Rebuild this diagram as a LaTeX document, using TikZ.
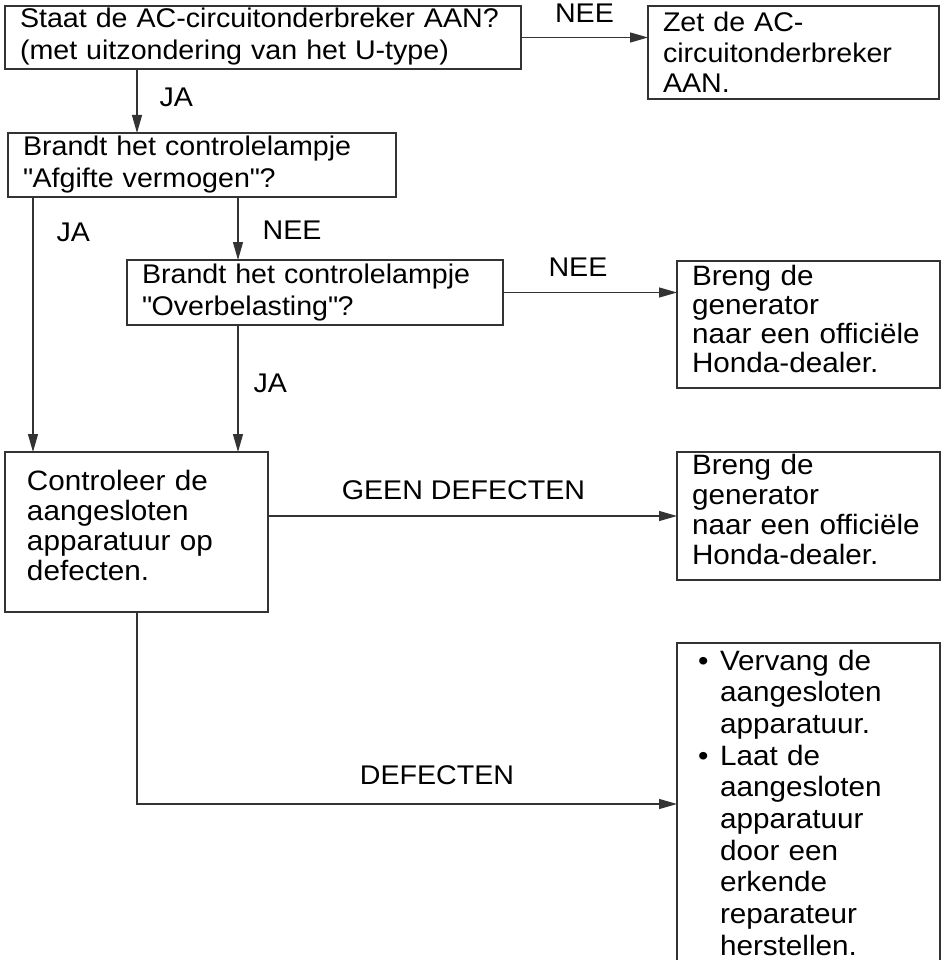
\documentclass[tikz,border=0pt]{standalone}
\usepackage{fontspec}
\setmainfont{Liberation Sans}[FakeStretch=1.06]
\usepackage{tikz}
\usetikzlibrary{positioning,arrows.meta}
\tikzset{
  vak/.style={draw=black!80,line width=1.2pt,anchor=north west,outer sep=0pt,align=left,inner xsep=15pt,inner ysep=2pt,font=\fontsize{28}{30}\selectfont},
  lab/.style={font=\fontsize{27}{30}\selectfont,inner sep=4pt},
  pijl/.style={-{Triangle[length=18pt,width=10pt]},draw=black!80,line width=1.2pt},
}
\newcommand{\opsom}{\makebox[22pt][l]{\textbullet}}
\newcommand{\insp}{\hspace*{22pt}}
\newcommand{\aanh}{\XeTeXglyph\the\XeTeXcharglyph"22\relax}

\begin{document}
\begin{tikzpicture}[x=1pt,y=-1pt]
  \useasboundingbox (0,0) rectangle (944,960);
  \coordinate (k1) at (137,0); \coordinate (k2) at (33,0); \coordinate (k3) at (238,0);
  \node[vak,text width=486pt,text height=20pt,text depth=39pt,font=\fontsize{27}{32}\selectfont] (vAC) at (5,6)
    {Staat de AC-circuitonderbreker AAN?\\(met uitzondering van het U-type)};
  \node[vak,text width=261pt,text height=24pt,text depth=65pt,font=\fontsize{27}{30.5}\selectfont] (zet) at (648,6)
    {Zet de AC-\\circuitonderbreker\\AAN.};
  \node[vak,text width=358pt,text height=21pt,text depth=39pt,font=\fontsize{27}{32}\selectfont] (vAfg) at (8,133)
    {Brandt het controlelampje\\\aanh Afgifte vermogen\aanh?};
  \node[vak,text width=346pt,text height=21pt,text depth=40pt,font=\fontsize{27}{32}\selectfont] (vOver) at (127,260)
    {Brandt het controlelampje\\\aanh Overbelasting\aanh?};
  \node[vak,text width=233pt,text height=22pt,text depth=101pt,font=\fontsize{28}{29}\selectfont] (dealerA) at (677,261)
    {Breng de\\generator\\naar een officiële\\Honda-dealer.};
  \node[vak,inner xsep=22pt,text width=219pt,text height=36pt,text depth=120pt] (contr) at (5,452)
    {Controleer de\\aangesloten\\apparatuur op\\defecten.};
  \node[vak,text width=233pt,text height=20pt,text depth=104pt] (dealerB) at (677,452)
    {Breng de\\generator\\naar een officiële\\Honda-dealer.};
  \node[vak,inner xsep=21pt,text width=221pt,text height=25pt,text depth=293pt,font=\fontsize{28}{31.7}\selectfont] (herst) at (677,643)
    {\opsom Vervang de\\\insp aangesloten\\\insp apparatuur.\\\opsom Laat de\\\insp aangesloten\\\insp apparatuur\\\insp door een\\\insp erkende\\\insp reparateur\\\insp herstellen.};

  \draw[pijl] (vAC.east) -- (vAC.east -| zet.west) node[lab,midway,above=10pt]{NEE};
  \draw[pijl] (vAC.south -| k1) -- (vAfg.north -| k1) node[lab,midway,right=18pt,yshift=3.5pt]{JA};
  \draw[pijl] (vAfg.south -| k2) -- (contr.north -| k2) node[lab,pos=0.14,right=19pt]{JA};
  \draw[pijl] (vAfg.south -| k3) -- (vOver.north -| k3) node[lab,midway,right=20pt,yshift=-1.5pt]{NEE};
  \draw[pijl] (vOver.south -| k3) -- (contr.north -| k3) node[lab,midway,right=11pt,yshift=5.5pt]{JA};
  \draw[pijl] (vOver.east) -- (vOver.east -| dealerA.west) node[lab,midway,above=11pt,xshift=-12pt]{NEE};
  \draw[pijl] (dealerB.west -| contr.east) -- (dealerB.west) node[lab,midway,above=12pt,xshift=-9pt]{GEEN DEFECTEN};
  \draw[pijl] (contr.south -| k1) |- (herst.west) node[lab,pos=0.75,above=15pt,xshift=30pt]{DEFECTEN};
\end{tikzpicture}
\end{document}
